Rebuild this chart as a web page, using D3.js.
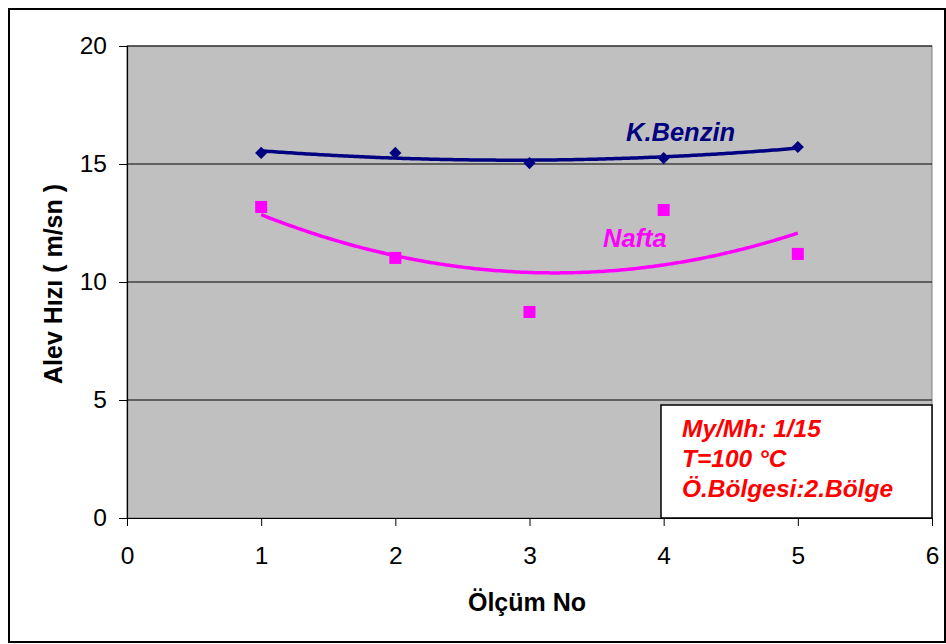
<!DOCTYPE html>
<html><head><meta charset="utf-8">
<script src="https://cdn.jsdelivr.net/npm/d3@7"></script>
<style>body{margin:0;background:#fff}svg{display:block}</style>
</head><body>
<script>
const olcumNo = [1, 2, 3, 4, 5];
const kBenzin = [15.47, 15.47, 15.04, 15.25, 15.72];
const nafta = [13.18, 11.02, 8.73, 13.05, 11.19];
const xTicks = [0, 1, 2, 3, 4, 5, 6];
const yTicks = [0, 5, 10, 15, 20];
const infoLines = ["My/Mh: 1/15", "T=100 \u00B0C", "\u00D6.B\u00F6lgesi:2.B\u00F6lge"];

const W = 946, H = 644;
const m = {l: 127, r: 932, t: 46, b: 518};
const svg = d3.select("body").append("svg").attr("width", W).attr("height", H);
const font = "'Liberation Sans', Arial, sans-serif";

// outer frame
svg.append("rect").attr("x", 9).attr("y", 9).attr("width", 936).attr("height", 633)
  .attr("fill", "#fff").attr("stroke", "#000").attr("stroke-width", 2);

const x = d3.scaleLinear().domain([0, 6]).range([m.l, m.r]);
const y = d3.scaleLinear().domain([0, 20]).range([m.b, m.t]);

svg.append("rect").attr("x", m.l).attr("y", m.t).attr("width", m.r - m.l).attr("height", m.b - m.t)
  .attr("fill", "#C0C0C0").attr("stroke", "#808080").attr("stroke-width", 1);

// grid
svg.append("g").selectAll("line").data(yTicks.filter(d => d > 0)).join("line")
  .attr("x1", m.l).attr("x2", m.r).attr("y1", d => y(d)).attr("y2", d => y(d))
  .attr("stroke", "#000").attr("stroke-width", 1);

// axes
const yAxis = svg.append("g").attr("transform", `translate(${m.l},0)`)
  .call(d3.axisLeft(y).tickValues(yTicks).tickFormat(d3.format("d")).tickSize(8).tickPadding(12));
const xAxis = svg.append("g").attr("transform", `translate(0,${m.b})`)
  .call(d3.axisBottom(x).tickValues(xTicks).tickFormat(d3.format("d")).tickSize(8).tickPadding(21));
[yAxis, xAxis].forEach(a => {
  a.select(".domain").attr("stroke", "#000").attr("stroke-width", 1.2);
  a.selectAll(".tick line").attr("stroke", "#000");
  a.selectAll("text").attr("font-family", font).attr("font-size", 24.5).attr("fill", "#000");
});
xAxis.select(".domain").attr("d", `M${m.l},0.5H${m.r}`);
yAxis.select(".domain").attr("d", `M0.5,${m.t}V${m.b}`);

// quadratic trendline (least squares) derived from data
function quadFit(xs, ys) {
  let s = [0,0,0,0,0], t = [0,0,0];
  xs.forEach((xv, i) => {
    for (let k = 0; k < 5; k++) s[k] += Math.pow(xv, k);
    for (let k = 0; k < 3; k++) t[k] += Math.pow(xv, k) * ys[i];
  });
  const A = [[s[0], s[1], s[2], t[0]], [s[1], s[2], s[3], t[1]], [s[2], s[3], s[4], t[2]]];
  for (let i = 0; i < 3; i++) {
    for (let j = i + 1; j < 3; j++) {
      const f = A[j][i] / A[i][i];
      for (let k = i; k < 4; k++) A[j][k] -= f * A[i][k];
    }
  }
  const c = [0,0,0];
  for (let i = 2; i >= 0; i--) {
    let v = A[i][3];
    for (let k = i + 1; k < 3; k++) v -= A[i][k] * c[k];
    c[i] = v / A[i][i];
  }
  return xv => c[0] + c[1] * xv + c[2] * xv * xv;
}

function trend(vals, color) {
  const f = quadFit(olcumNo, vals);
  const pts = d3.range(olcumNo[0], olcumNo[olcumNo.length - 1] + 1e-9, 0.02).map(v => [v, f(v)]);
  svg.append("path").datum(pts)
    .attr("d", d3.line().x(d => x(d[0])).y(d => y(d[1])))
    .attr("fill", "none").attr("stroke", color).attr("stroke-width", 3.5);
}
trend(kBenzin, "#000080");
trend(nafta, "#FF00FF");

// markers
svg.append("g").selectAll("path").data(olcumNo).join("path")
  .attr("transform", (d, i) => `translate(${x(d)},${y(kBenzin[i])}) rotate(45)`)
  .attr("d", "M-4.3,-4.3H4.3V4.3H-4.3Z").attr("fill", "#000080");
svg.append("g").selectAll("rect").data(olcumNo).join("rect")
  .attr("x", d => x(d) - 6).attr("y", (d, i) => y(nafta[i]) - 6)
  .attr("width", 12).attr("height", 12).attr("fill", "#FF00FF");

// series labels
svg.append("text").attr("x", 626).attr("y", 141).text("K.Benzin")
  .attr("font-family", font).attr("font-size", 25.5).attr("font-weight", "bold")
  .attr("font-style", "italic").attr("fill", "#000080");
svg.append("text").attr("x", 603).attr("y", 247).text("Nafta")
  .attr("font-family", font).attr("font-size", 25.5).attr("font-weight", "bold")
  .attr("font-style", "italic").attr("fill", "#FF00FF");

// info box
svg.append("rect").attr("x", 661).attr("y", 405).attr("width", 271).attr("height", 113)
  .attr("fill", "#fff").attr("stroke", "#000").attr("stroke-width", 1.5);
svg.append("g").selectAll("text").data(infoLines).join("text")
  .attr("x", 682).attr("y", (d, i) => 437 + i * 30).text(d => d)
  .attr("font-family", font).attr("font-size", 24.5).attr("font-weight", "bold")
  .attr("font-style", "italic").attr("fill", "#FF0000");

// axis titles
svg.append("text").attr("transform", "translate(62,284) rotate(-90)")
  .attr("text-anchor", "middle").text("Alev H\u0131z\u0131 ( m/sn )")
  .attr("font-family", font).attr("font-size", 25).attr("font-weight", "bold");
svg.append("text").attr("x", 527).attr("y", 611).attr("text-anchor", "middle")
  .text("\u00D6l\u00E7\u00FCm No")
  .attr("font-family", font).attr("font-size", 25).attr("font-weight", "bold");
</script>
</body></html>
